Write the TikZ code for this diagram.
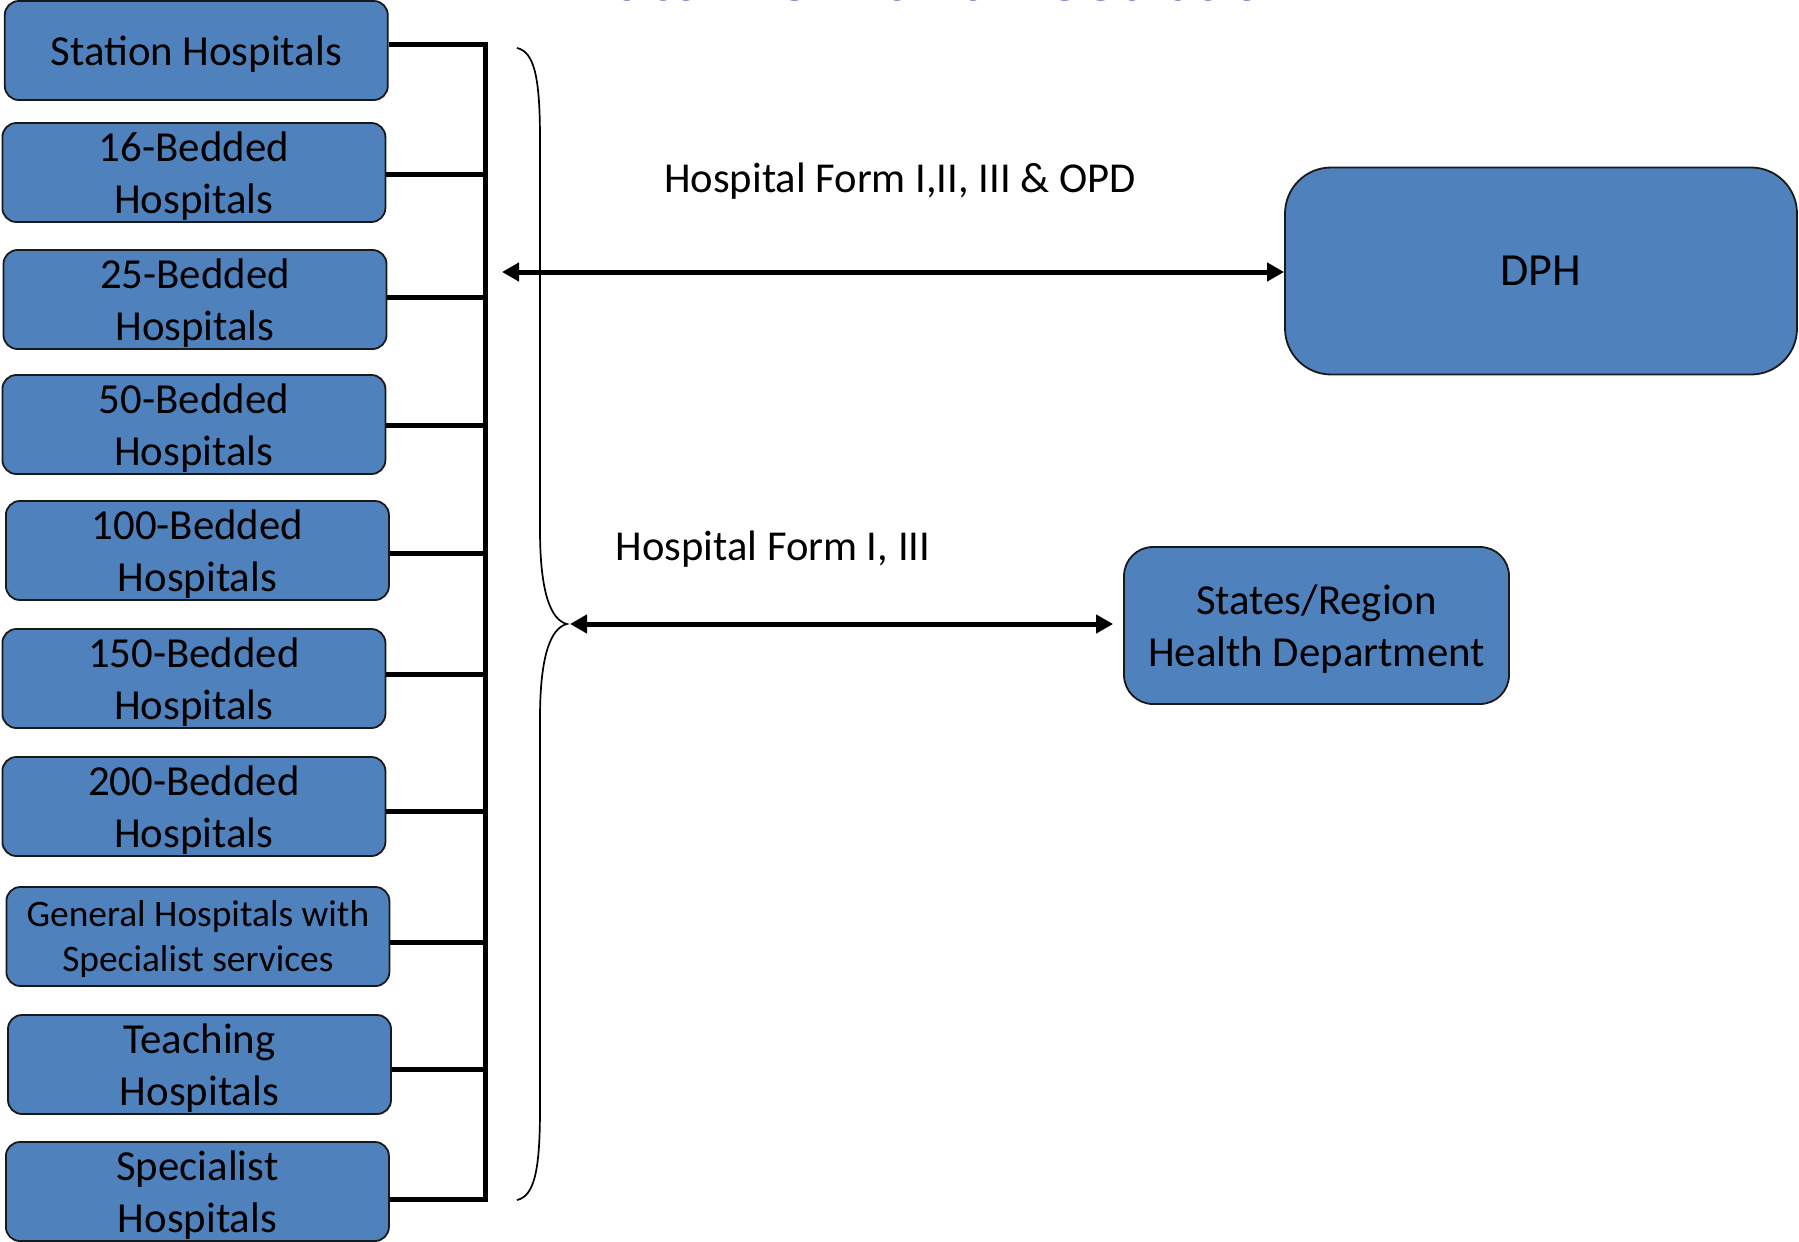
\documentclass[tikz,border=0pt]{standalone}
\usepackage{fontspec}
\setmainfont{Carlito}
\usetikzlibrary{arrows.meta}
\definecolor{boxblue}{HTML}{4F81BD}
\definecolor{titleblue}{RGB}{30,30,160}
\begin{document}
\begin{tikzpicture}[x=1pt,y=-1pt,
  hbox/.style={draw=black!90, line width=1.8pt, fill=boxblue, rounded corners=14pt,
    minimum width=383pt, minimum height=99pt, inner sep=0pt, align=center,
    font=\fontsize{42.8}{51.6}\selectfont},
  bus/.style={line width=5pt},
  flow/.style={line width=5pt, {Triangle[length=17pt,width=18pt]}-{Triangle[length=17pt,width=18pt]}},
  lbl/.style={font=\fontsize{42.6}{51.6}\selectfont, inner sep=0pt}]
\useasboundingbox (0,0) rectangle (1799,1242);
\begin{scope}
\clip (0,0) rectangle (1799,1242);
\node[anchor=base, text=titleblue, font=\fontsize{72}{76}\selectfont\bfseries, inner sep=0pt] (title) at (932,0) {Data Flow and Feedback};
\end{scope}
% hospital boxes
\begin{scope}[every node/.append style={text depth=0pt}]
\node[hbox] (h1) at (196.3,50.5) {Station Hospitals};
\node[hbox] (h2) at (193.9,172.5) {16-Bedded\\Hospitals};
\node[hbox] (h3) at (195,299.5) {25-Bedded\\Hospitals};
\node[hbox] (h4) at (193.9,424.5) {50-Bedded\\Hospitals};
\node[hbox] (h5) at (197.4,550.5) {100-Bedded\\Hospitals};
\node[hbox] (h6) at (193.9,678.5) {150-Bedded\\Hospitals};
\node[hbox] (h7) at (193.9,806.5) {200-Bedded\\Hospitals};
\node[hbox, font=\fontsize{37.4}{45}\selectfont] (h8) at (197.9,936.5) {General Hospitals with\\Specialist services};
\node[hbox] (h9) at (199.5,1064.5) {Teaching\\Hospitals};
\node[hbox] (h10) at (197.4,1191.5) {Specialist\\Hospitals};
\end{scope}
% bus coordinates
\coordinate (s1) at (485,44.7);
\coordinate (s2) at (485,174.4);
\coordinate (s3) at (485,297);
\coordinate (s4) at (485,425.6);
\coordinate (s5) at (485,553);
\coordinate (s6) at (485,674.6);
\coordinate (s7) at (485,811);
\coordinate (s8) at (485,942);
\coordinate (s9) at (485,1069);
\coordinate (s10) at (485,1199);
\draw[bus, line cap=rect] (s1) -- (s10);
\foreach \i in {1,...,10} {
  \draw[bus] (h\i.east |- s\i) -- (s\i);
}
% brace
\draw[line width=1.7pt] (517,48) .. controls (535,52) and (540,80) .. (540,140)
  -- (540,530) .. controls (540,590) and (550,620) .. (567,624)
  .. controls (550,628) and (540,658) .. (540,718)
  -- (540,1108) .. controls (540,1168) and (535,1196) .. (517,1200);
% targets
\node[hbox, minimum width=512pt, minimum height=207pt, rounded corners=46pt, font=\fontsize{46}{55}\selectfont] (dph) at (1541,271) {DPH};
\node[hbox, minimum width=385pt, minimum height=157pt, rounded corners=29pt, text depth=0pt] (srh) at (1316.5,625.5) {States/Region\\Health Department};
\coordinate (a1) at (502,272);
\coordinate (a2) at (570,624);
\draw[flow] (a1) -- (dph.west |- a1);
\draw[flow, shorten >=10pt] (a2) -- (srh.west |- a2);
\node[lbl] (l1) at (900,181) {Hospital Form I,II, III \& OPD};
\node[lbl] (l2) at (773,549.5) {Hospital Form I, III};
\end{tikzpicture}
\end{document}
